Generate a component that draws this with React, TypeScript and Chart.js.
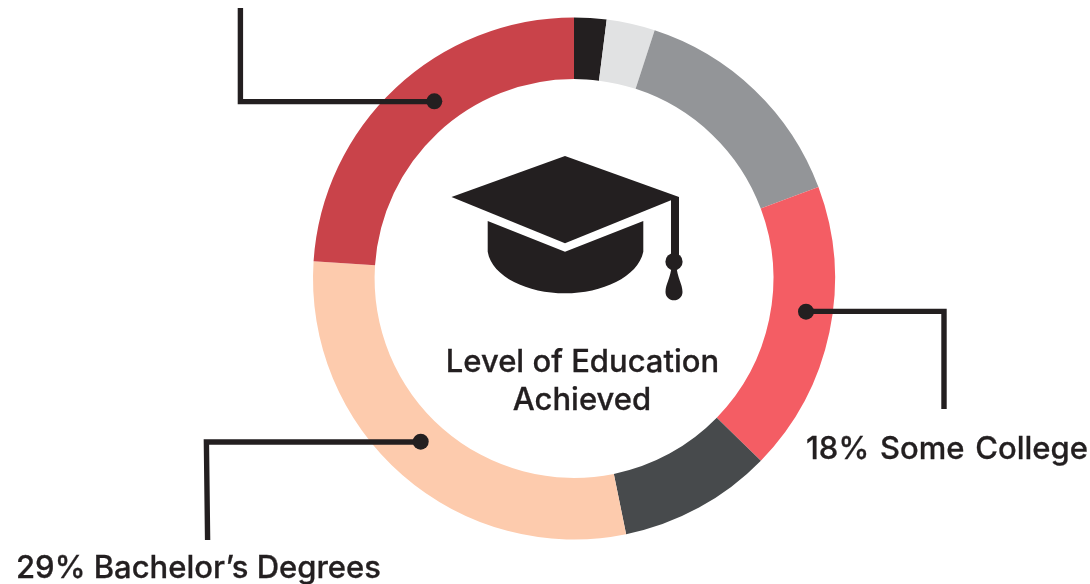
import React, { useEffect, useRef } from "react";
import { Chart, registerables } from "chart.js";

Chart.register(...registerables);

const categories = [
  "Less than High School",
  "Some High School",
  "High School Diploma",
  "Some College",
  "Associate Degrees",
  "Bachelor's Degrees",
  "Graduate Degrees",
];
const shares = [2, 3, 14.3, 18, 9.5, 29.25, 23.95];
const colours = ["#231F20", "#E1E2E3", "#939598", "#F45D64", "#474A4C", "#FDCBAD", "#C9434A"];

const INK = "#231F20";
const FONT = 'Inter, sans-serif';

const overlay = {
  id: "overlay",
  afterDatasetsDraw(chart: any) {
    const ctx = chart.ctx as CanvasRenderingContext2D;
    ctx.save();
    ctx.fillStyle = INK;
    ctx.strokeStyle = INK;
    ctx.lineJoin = "miter";
    ctx.lineCap = "butt";

    const connector = (pts: number[][], dot: number[]) => {
      ctx.lineWidth = 5.4;
      ctx.beginPath();
      pts.forEach((p, i) => (i ? ctx.lineTo(p[0], p[1]) : ctx.moveTo(p[0], p[1])));
      ctx.stroke();
      ctx.beginPath();
      ctx.arc(dot[0], dot[1], 8, 0, Math.PI * 2);
      ctx.fill();
    };
    connector([[240.4, 8], [240.4, 101.6], [434, 101.6]], [434.3, 101.3]);
    connector([[207.6, 540], [206.4, 442], [420, 442]], [420.7, 441.7]);
    connector([[806, 311.4], [944, 311.4], [944, 409]], [806, 311.7]);

    // mortarboard
    ctx.beginPath();
    ctx.moveTo(565, 156);
    ctx.lineTo(679, 197);
    ctx.lineTo(565, 243.3);
    ctx.lineTo(451.5, 197);
    ctx.closePath();
    ctx.fill();
    // cap base
    ctx.beginPath();
    ctx.moveTo(487.7, 221);
    ctx.lineTo(565, 251.7);
    ctx.lineTo(643.3, 221);
    ctx.lineTo(643.3, 251.7);
    ctx.bezierCurveTo(638, 277, 602, 293.3, 565, 293.3);
    ctx.bezierCurveTo(528, 293.3, 492, 277, 487.7, 251.7);
    ctx.closePath();
    ctx.fill();
    // tassel
    ctx.fillRect(671, 197, 8, 60);
    ctx.beginPath();
    ctx.arc(674, 261.7, 8.6, 0, Math.PI * 2);
    ctx.fill();
    ctx.beginPath();
    ctx.moveTo(671.5, 266);
    ctx.lineTo(676.5, 266);
    ctx.bezierCurveTo(677, 277, 682.5, 284, 682.5, 292);
    ctx.bezierCurveTo(682.5, 297, 678.5, 300.3, 674, 300.3);
    ctx.bezierCurveTo(669.5, 300.3, 665.5, 297, 665.5, 292);
    ctx.bezierCurveTo(665.5, 284, 671, 277, 671.5, 266);
    ctx.closePath();
    ctx.fill();
    ctx.restore();
  },
};

const labels = [
  { text: "Level of Education", x: 582.5, base: 371, align: "center", gap: 0 },
  { text: "Achieved", x: 582, base: 409, align: "center", gap: 0 },
  { text: "18% Some College", x: 806, base: 458, align: "left", gap: 2.5 },
  { text: "29% Bachelor\u2019s Degrees", x: 16, base: 577, align: "left", gap: 0 },
];

export default function App() {
  const ref = useRef<HTMLCanvasElement>(null);
  useEffect(() => {
    const chart = new Chart(ref.current!, {
      type: "doughnut",
      data: {
        labels: categories,
        datasets: [{ data: shares, backgroundColor: colours, borderWidth: 0, hoverOffset: 0 }],
      },
      options: {
        responsive: false,
        animation: false,
        radius: 261,
        cutout: "76.4%",
        layout: { padding: { left: 58, bottom: 27 } },
        plugins: { legend: { display: false }, tooltip: { enabled: false } },
      } as any,
      plugins: [overlay],
    });
    return () => chart.destroy();
  }, []);

  return (
    <div style={{ position: "absolute", left: 0, top: 0, width: 1090, height: 584, overflow: "hidden", background: "#fff" }}>
      <canvas ref={ref} width={1090} height={584} style={{ display: "block" }} />
      {labels.map((l) => (
        <span
          key={l.text}
          style={{
            position: "absolute",
            top: l.base - 27,
            left: l.align === "center" ? l.x - 200 : l.x,
            width: l.align === "center" ? 400 : undefined,
            textAlign: l.align as any,
            whiteSpace: "nowrap",
            fontFamily: FONT,
            fontWeight: 500,
            fontSize: 31,
            lineHeight: "33px",
            wordSpacing: l.gap,
            color: INK,
            WebkitTextStroke: "0.3px #231F20",
          }}
        >
          {l.text}
        </span>
      ))}
    </div>
  );
}
